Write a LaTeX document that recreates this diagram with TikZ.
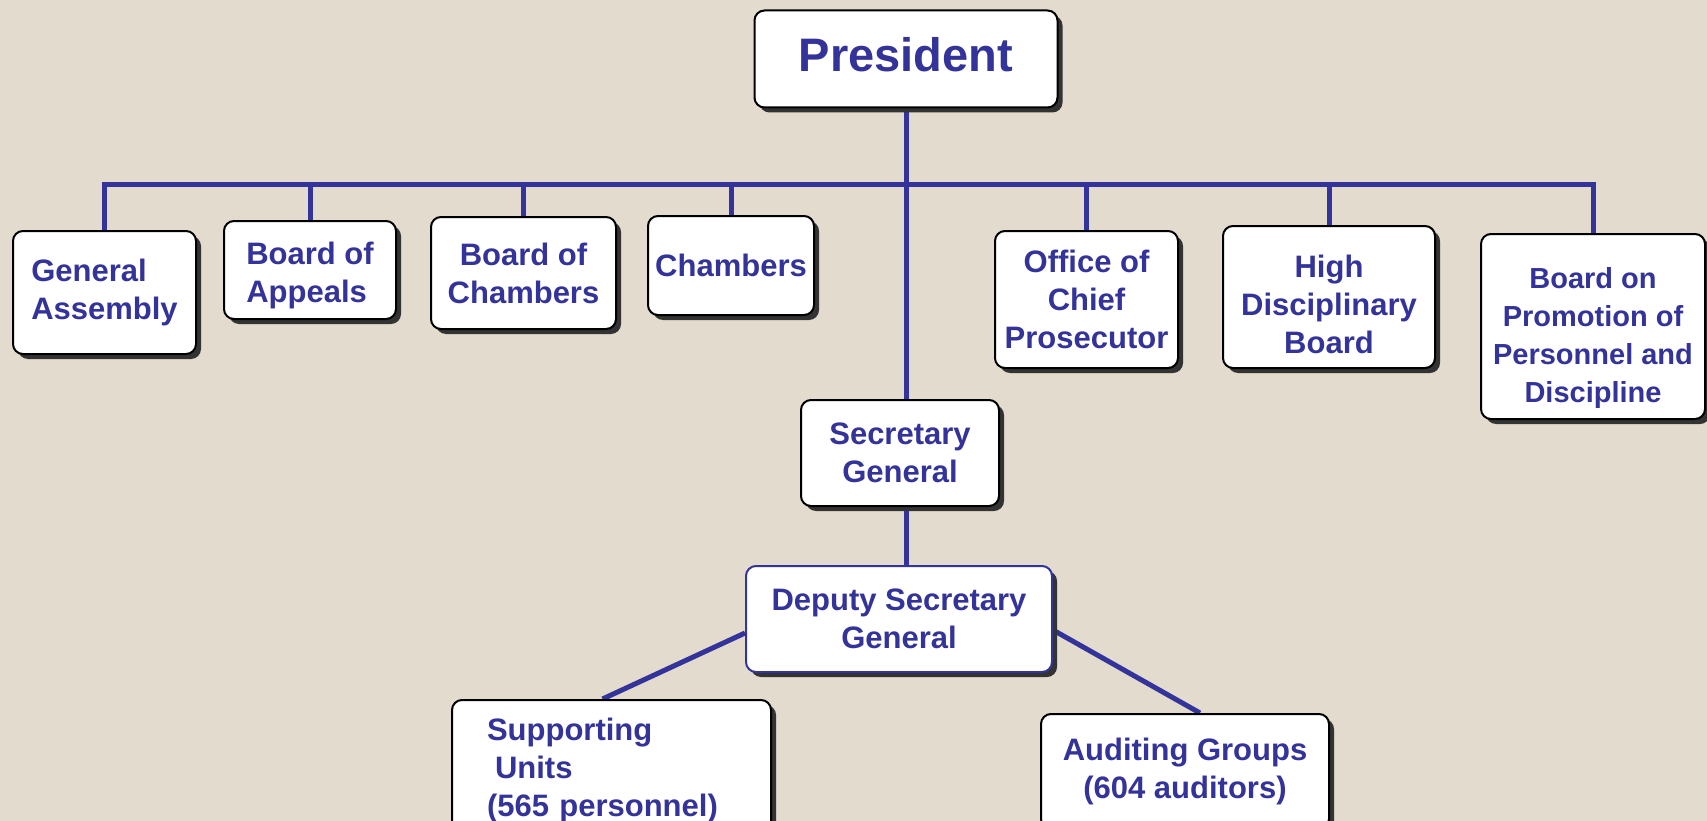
\documentclass[tikz,border=0pt]{standalone}
\usepackage{fontspec}
\setmainfont{Liberation Sans}
\usetikzlibrary{shadows}
\definecolor{bgc}{HTML}{E2DBCE}
\definecolor{navy}{HTML}{333399}
\definecolor{shade}{HTML}{333333}
\pgfdeclarelayer{paper}
\pgfdeclarelayer{lines}
\pgfsetlayers{paper,lines,main}
\tikzset{
  orgbox/.style={draw=black, line width=2pt, fill=white, rounded corners=10pt,
    text=navy, font=\fontsize{31}{38}\selectfont\bfseries, align=center, inner sep=4pt,
    drop shadow={shadow xshift=5pt, shadow yshift=-5pt, fill=shade, opacity=1}},
  link/.style={draw=navy, line width=5pt, line join=miter}
}
\begin{document}
\begin{tikzpicture}[x=1pt, y=-1pt]
\useasboundingbox (0,0) rectangle (1707,821);
\begin{pgfonlayer}{paper}
\fill[bgc] (0,0) rectangle (1707,821);
\end{pgfonlayer}

\node[orgbox, minimum width=303pt, minimum height=97pt, font=\fontsize{47}{56}\selectfont\bfseries] (pres) at (906,59) {President\rule[-9pt]{0pt}{9pt}};

\node[orgbox, minimum width=183pt, minimum height=123pt, align=left] (ga) at (104.5,292.5) {General\\Assembly};
\node[orgbox, minimum width=172pt, minimum height=98pt, align=left] (boa) at (310,270) {\rule{0pt}{33pt}Board of\\Appeals};
\node[orgbox, minimum width=185pt, minimum height=112pt] (boc) at (523.5,273) {Board of\\Chambers};
\node[orgbox, minimum width=166pt, minimum height=99pt] (ch) at (731,265.5) {Chambers};
\node[orgbox, minimum width=183pt, minimum height=137pt] (ocp) at (1086.5,299.5) {Office of\\Chief\\Prosecutor};
\node[orgbox, minimum width=212pt, minimum height=142pt] (hdb) at (1329,297) {\rule{0pt}{38pt}High\\Disciplinary\\Board};
\node[orgbox, minimum width=224pt, minimum height=185pt, inner sep=1pt, font=\fontsize{29}{38}\selectfont\bfseries] (bppd) at (1593,326.5) {\rule{0pt}{44pt}Board on\\Promotion of\\Personnel and\\Discipline};

\node[orgbox, minimum width=198pt, minimum height=106pt] (sg) at (900,453) {Secretary\\General};
\node[orgbox, draw=navy, minimum width=306pt, minimum height=106pt] (dsg) at (899,619) {Deputy Secretary\\General};

\node[orgbox, text width=249pt, inner xsep=35pt, minimum height=140pt, align=left] (su) at (611.5,770) {Supporting\\\hspace*{8pt}Units\\(565 personnel)};
\node[orgbox, minimum width=288pt, minimum height=115pt] (ag) at (1185,771.5) {Auditing Groups\\(604 auditors)};

\coordinate (bus) at (906,185);

\begin{pgfonlayer}{lines}
\draw[link] (pres.south) -- (pres.south |- sg.north);
\draw[link] (pres.south |- sg.south) -- (pres.south |- dsg.north);
\draw[link] (ga.north) -- (ga.north |- bus) -- (bppd.north |- bus) -- (bppd.north);
\foreach \n in {boa,boc,ch,ocp,hdb} \draw[link] (\n.north) -- (\n.north |- bus);
\draw[link] ([yshift=-14pt]dsg.west) -- ([xshift=-9pt]su.north);
\draw[link] ([yshift=-11pt]dsg.east) -- ([xshift=15pt]ag.north);
\end{pgfonlayer}
\end{tikzpicture}
\end{document}
